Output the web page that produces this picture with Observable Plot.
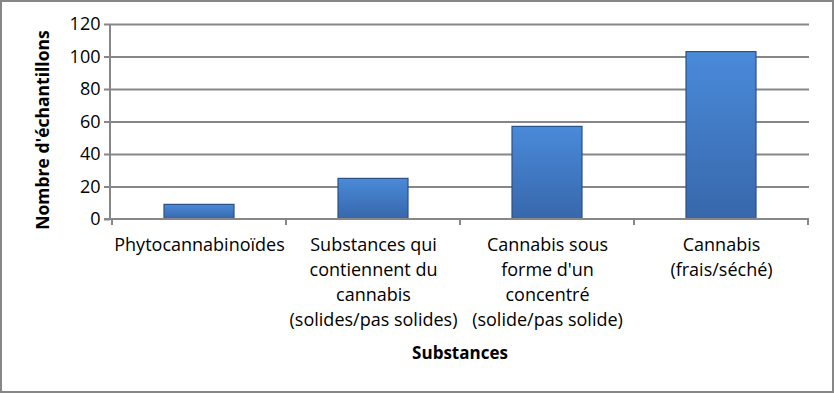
<!DOCTYPE html>
<html>
<head>
<meta charset="utf-8">
<script src="https://cdn.jsdelivr.net/npm/d3@7"></script>
<script src="https://cdn.jsdelivr.net/npm/@observablehq/plot@0.6"></script>
<style>
  html, body { margin: 0; padding: 0; background: #fff; }
  #chart svg { display: block; outline: 2px solid #878787; outline-offset: -2px; }
</style>
</head>
<body>
<div id="chart"></div>
<script>
const categories = [
  "Phytocannabinoïdes",
  "Substances qui\ncontiennent du\ncannabis\n(solides/pas solides)",
  "Cannabis sous\nforme d'un\nconcentré\n(solide/pas solide)",
  "Cannabis\n(frais/séché)"
];
const counts = [9, 25, 57, 103];
const yTicks = [0, 20, 40, 60, 80, 100, 120];
const yLabel = "Nombre d'échantillons";
const xLabel = "Substances";

const data = categories.map((c, i) => ({category: c, count: counts[i]}));
const FONT = "'Open Sans', sans-serif";

function axisLines(index, scales, values, dims) {
  const g = d3.create("svg:g");
  const x = scales.x, y = scales.y;
  const y0 = y(0);
  const left = dims.marginLeft, right = dims.width - dims.marginRight;
  const top = dims.marginTop;
  g.append("line").attr("x1", left).attr("x2", left).attr("y1", top).attr("y2", y0)
    .attr("stroke", "#878787").attr("stroke-width", 2);
  g.append("line").attr("x1", left - 6).attr("x2", right).attr("y1", y0).attr("y2", y0)
    .attr("stroke", "#878787").attr("stroke-width", 2);
  const gap = (x.step() - x.bandwidth()) / 2;
  const edges = categories.map(c => x(c) - gap);
  edges.push(x(categories[categories.length - 1]) + x.bandwidth() + gap);
  for (const e of edges) {
    g.append("line").attr("x1", e).attr("x2", e).attr("y1", y0).attr("y2", y0 + 6)
      .attr("stroke", "#878787").attr("stroke-width", 2);
  }
  return g.node();
}

const chart = Plot.plot({
  width: 834,
  height: 393,
  marginLeft: 110,
  marginRight: 25,
  marginTop: 24,
  marginBottom: 174,
  style: {fontFamily: FONT, fontSize: "16px", color: "#000", background: "#fff"},
  x: {domain: categories, paddingInner: 0.6, paddingOuter: 0.3, align: 0.5},
  y: {domain: [0, 120], ticks: yTicks},
  marks: [
    Plot.ruleY(yTicks.filter(d => d > 0), {stroke: "#878787", strokeWidth: 2, strokeOpacity: 1}),
    Plot.barY(data, {x: "category", y: "count", fill: "url(#barGrad)", stroke: "#2a5187", strokeWidth: 1.2}),
    Plot.barY(data, {x: "category", y1: "count", y2: d => d.count, fill: "none", stroke: "#8fb8ec", strokeWidth: 2, dy: 2, insetLeft: 4, insetRight: 4}),
    axisLines,
    Plot.axisY({ticks: yTicks, tickSize: 6, tickPadding: 4, tickFormat: d => d, label: null, fontSize: 18, stroke: "#878787", strokeWidth: 2}),
    Plot.axisX({tickSize: 0, tickPadding: 14, lineHeight: 1.39, label: null, fontSize: 18}),
    Plot.text([yLabel], {frameAnchor: "left", textAnchor: "middle", rotate: -90, dx: -67, dy: 8, fontWeight: "bold", fontSize: 17.5}),
    Plot.text([xLabel], {frameAnchor: "bottom", dy: 139, fontWeight: "bold", fontSize: 17})
  ]
});

const defs = d3.select(chart).insert("defs", ":first-child");
const grad = defs.append("linearGradient").attr("id", "barGrad").attr("x1", 0).attr("y1", 0).attr("x2", 0).attr("y2", 1);
grad.append("stop").attr("offset", "0%").attr("stop-color", "#4a8ad9");
grad.append("stop").attr("offset", "100%").attr("stop-color", "#3767ab");

document.getElementById("chart").appendChild(chart);
</script>
</body>
</html>
